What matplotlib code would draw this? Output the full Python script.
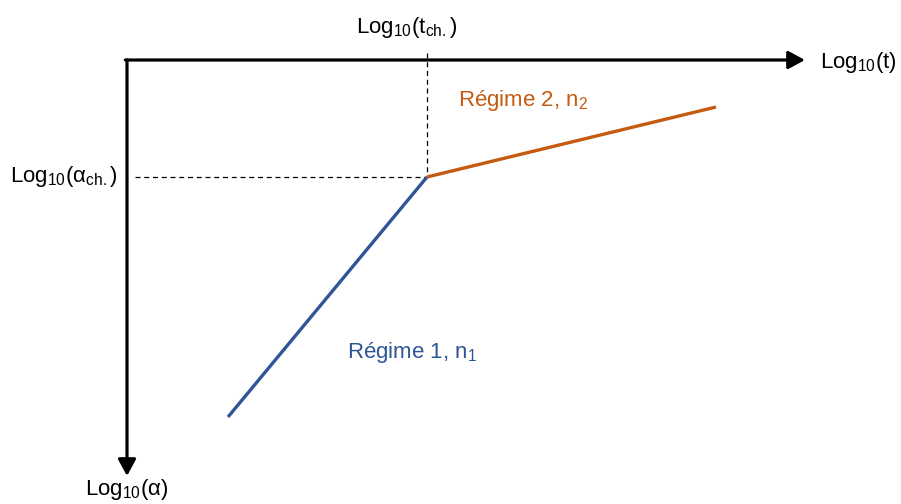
import matplotlib
matplotlib.use("Agg")
import matplotlib.pyplot as plt

plt.rcParams['font.family'] = ['Liberation Sans', 'DejaVu Sans']
plt.rcParams['mathtext.fontset'] = 'custom'
plt.rcParams['mathtext.rm'] = 'Liberation Sans'
plt.rcParams['mathtext.it'] = 'Liberation Sans:italic'

# schematic values (log10 t to the right, log10 alpha downwards)
t_ch = 3.0
a_ch = 1.17
regime1_t = [1.01, t_ch]
regime1_a = [3.57, a_ch]
regime2_t = [t_ch, 5.89]
regime2_a = [a_ch, 0.47]
axis_t_end = 6.78
axis_a_end = 4.16

blue = '#2F5597'
orange = '#C55A11'

fig = plt.figure(figsize=(9.01, 5.04), dpi=100)
ax = fig.add_axes([0, 0, 1, 1])
ax.set_xlim(-1.27, 7.74)
ax.set_ylim(4.44, -0.60)
ax.axis('off')

# axes drawn as two arrows from the origin
arrow = dict(arrowstyle='-|>,head_length=0.5,head_width=0.27', color='black',
             lw=2.3, mutation_scale=20, shrinkA=0, shrinkB=0)
ax.annotate('', xy=(axis_t_end, 0), xytext=(-0.016, 0), arrowprops=arrow)
ax.annotate('', xy=(0, axis_a_end), xytext=(0, 0), arrowprops=arrow)

# dashed guides to the characteristic point
ax.plot([t_ch, t_ch], [-0.07, a_ch], color='black', lw=0.9, ls=(0, (4, 3)))
ax.plot([0.08, t_ch], [a_ch, a_ch], color='black', lw=0.9, ls=(0, (4, 3)))

# the two regimes
ax.plot(regime1_t, regime1_a, color=blue, lw=2.4, solid_capstyle='butt')
ax.plot(regime2_t, regime2_a, color=orange, lw=2.4, solid_capstyle='butt')

fs = 16
ax.text(2.80, -0.27, r'Log$_{\mathrm{10}}$(t$_{\mathrm{ch.}}$)', ha='center',
        va='baseline', fontsize=fs)
ax.text(-0.09, 1.22, r'Log$_{\mathrm{10}}$(α$_{\mathrm{ch.}}$)', ha='right',
        va='baseline', fontsize=fs)
ax.text(6.93, 0.08, r'Log$_{\mathrm{10}}$(t)', ha='left', va='baseline', fontsize=fs)
ax.text(0.0, 4.35, r'Log$_{\mathrm{10}}$(α)', ha='center', va='baseline', fontsize=fs)
ax.text(2.20, 2.98, r'Régime 1, n$_{\mathrm{1}}$', ha='left', va='baseline',
        fontsize=fs, color=blue)
ax.text(3.31, 0.46, r'Régime 2, n$_{\mathrm{2}}$', ha='left', va='baseline',
        fontsize=fs, color=orange)

fig.savefig('out.png', dpi=100)
